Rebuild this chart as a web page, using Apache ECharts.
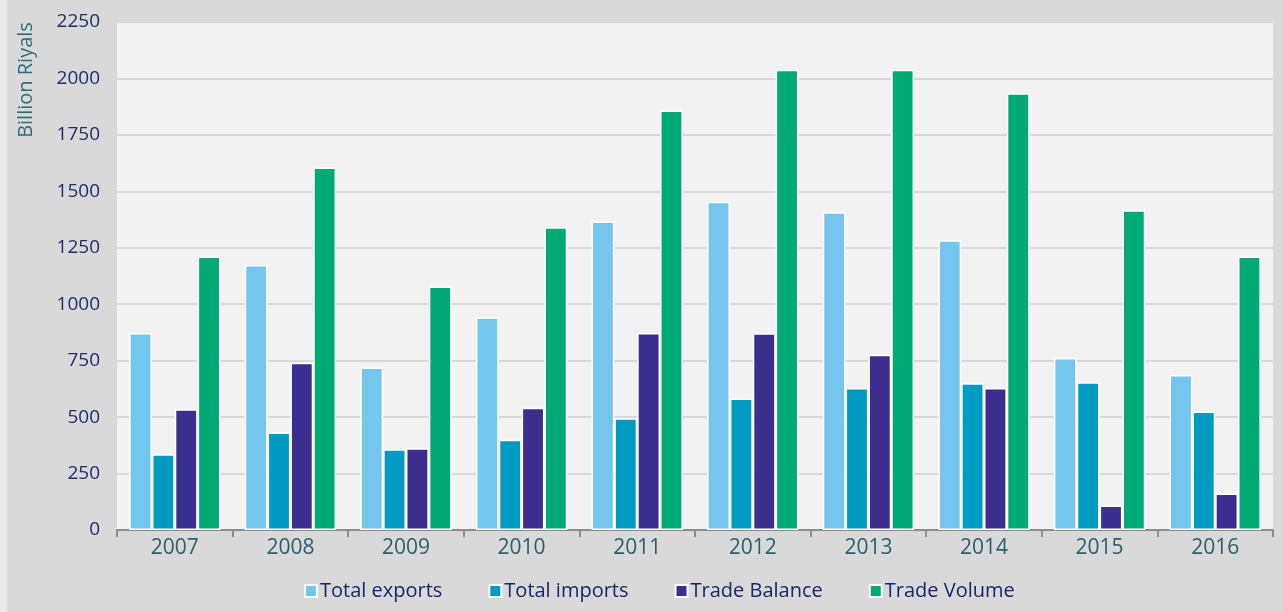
<!DOCTYPE html>
<html>
<head>
<meta charset="utf-8">
<script src="https://cdn.jsdelivr.net/npm/echarts@6/dist/echarts.min.js"></script>
<style>
  html, body { margin: 0; padding: 0; background: #d9d9d9; }
  #chart { width: 1283px; height: 612px; }
</style>
</head>
<body>
<div id="chart"></div>
<script>
// Saudi foreign trade, billion riyals
const years = ['2007', '2008', '2009', '2010', '2011', '2012', '2013', '2014', '2015', '2016'];
const totalExports = [872, 1174, 720, 941, 1366, 1454, 1407, 1283, 762, 687];
const totalImports = [336, 432, 358, 400, 495, 582, 629, 650, 654, 525];
const tradeBalance = [535, 741, 362, 541, 872, 871, 776, 629, 108, 162];
const tradeVolume = [1211, 1606, 1078, 1341, 1858, 2038, 2038, 1934, 1416, 1211];
const yTicks = { min: 0, max: 2250, step: 250 };

const FONT = "'Open Sans', 'Noto Sans', sans-serif";

function barSeries(name, data, color) {
  return {
    name: name,
    type: 'bar',
    data: data,
    barGap: '0%',
    barCategoryGap: '21%',
    itemStyle: { color: color, borderColor: '#ffffff', borderWidth: 1.5 }
  };
}

const chart = echarts.init(document.getElementById('chart'), null, { renderer: 'canvas' });
chart.setOption({
  backgroundColor: '#d9d9d9',
  animation: false,
  textStyle: { fontFamily: FONT },
  graphic: [
    { type: 'rect', left: 0, top: 0, shape: { width: 7, height: 612 }, style: { fill: '#e9e9e9' }, z: -1 },
    {
      type: 'text',
      x: 26, y: 80,
      rotation: Math.PI / 2,
      style: {
        text: 'Billion Riyals',
        fill: '#2e6b78',
        font: '20px ' + FONT,
        textAlign: 'center',
        textVerticalAlign: 'middle'
      }
    }
  ],
  grid: {
    left: 117, right: 10, top: 22, bottom: 82,
    show: true, backgroundColor: '#f2f2f2', borderWidth: 0
  },
  legend: {
    left: 299,
    top: 576,
    itemWidth: 12,
    itemHeight: 12,
    itemGap: 46,
    icon: 'rect',
    textStyle: { color: '#14286a', fontSize: 20, fontFamily: FONT, padding: [0, 0, 0, -2] },
    data: ['Total exports', 'Total imports', 'Trade Balance', 'Trade Volume']
  },
  xAxis: {
    type: 'category',
    data: years,
    axisLine: { lineStyle: { color: '#8c8c8c', width: 2 } },
    axisTick: { show: true, length: 7, lineStyle: { color: '#8c8c8c', width: 2 } },
    axisLabel: { color: '#2a5f6e', fontSize: 21, margin: 8, fontFamily: FONT }
  },
  yAxis: {
    type: 'value',
    min: yTicks.min,
    max: yTicks.max,
    interval: yTicks.step,
    axisLine: { show: false },
    axisTick: { show: false },
    axisLabel: {
      color: '#1b2f6e', fontSize: 19, margin: 17, fontFamily: FONT,
      formatter: function (v) { return String(v); }
    },
    splitLine: { lineStyle: { color: '#d9d9d9', width: 2 } }
  },
  series: [
    barSeries('Total exports', totalExports, '#75c6ef'),
    barSeries('Total imports', totalImports, '#009bc2'),
    barSeries('Trade Balance', tradeBalance, '#3b2e8e'),
    barSeries('Trade Volume', tradeVolume, '#00aa76')
  ]
});
</script>
</body>
</html>
